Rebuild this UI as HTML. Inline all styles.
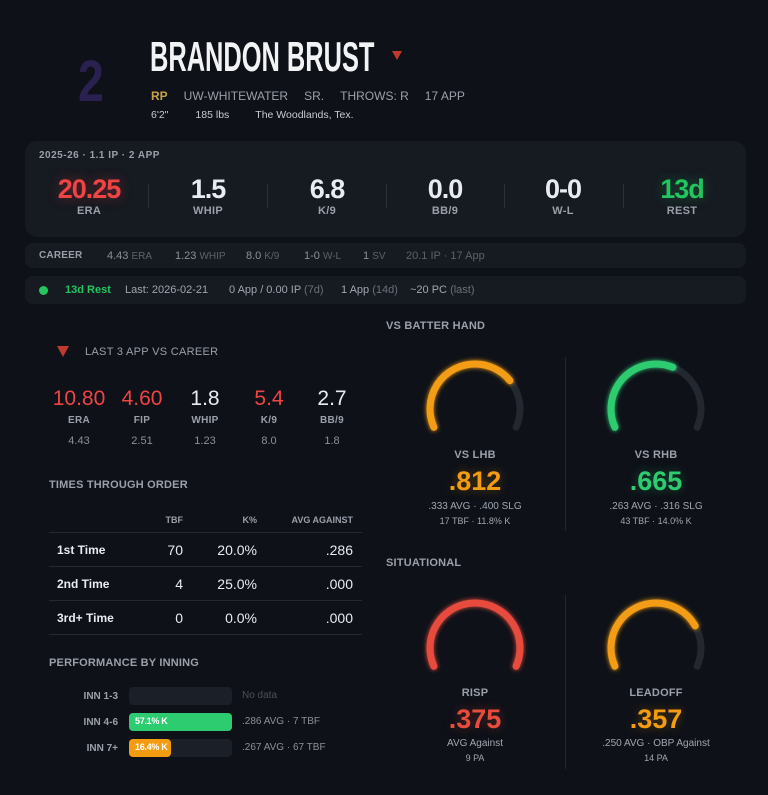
<!DOCTYPE html>
<html><head><meta charset="utf-8"><style>
*{margin:0;padding:0;box-sizing:border-box}
body{width:768px;height:795px;background:#0e1118;font-family:"Liberation Sans",sans-serif;color:#e8ebf0;position:relative;overflow:hidden}
.a{position:absolute;white-space:nowrap}
.c{transform:translateX(-50%);text-align:center}
.lab{font-weight:bold;color:#9aa0aa;letter-spacing:0.2px;font-size:11px}
.card{position:absolute;background:#161a21;border-radius:8px}
.sv{font-size:27px;letter-spacing:-1px;font-weight:bold}
.sl{font-size:11px;color:#9aa0aa;letter-spacing:0.3px;font-weight:bold}
.div{position:absolute;width:1px;background:#2a2f38}
.g{color:#8a909a;font-size:11px}
.d{color:#5c626c;font-size:10px}
.row{position:absolute;left:49px;width:313px;height:1px;background:#232832}
.t{font-size:14px;color:#e8ebf0}
.bar{position:absolute;left:129px;width:103px;height:18px;background:#1b1f27;border-radius:4px}
</style></head><body>
<div class="a" style="left:78px;top:48px;font-size:58px;font-weight:bold;color:#2b2150;transform:scaleX(0.8);transform-origin:left">2</div>
<div class="a" style="left:150px;top:33px;font-size:42px;font-weight:bold;color:#f2f3f5;transform:scaleX(0.605);transform-origin:left">BRANDON BRUST</div>
<div class="a" style="left:392px;top:51px;width:0;height:0;border-left:5px solid transparent;border-right:5px solid transparent;border-top:9px solid #c0392b"></div>
<div class="a" style="left:151px;top:89px;font-size:12px;color:#9aa0aa"><b style="color:#c9a14a">RP</b><span style="margin-left:16px">UW-WHITEWATER</span><span style="margin-left:16px">SR.</span><span style="margin-left:16px">THROWS: R</span><span style="margin-left:16px">17 APP</span></div>
<div class="a" style="left:151px;top:109px;font-size:10.5px;color:#c8ccd2">6'2"<span style="margin-left:27px">185 lbs</span><span style="margin-left:26px">The Woodlands, Tex.</span></div>

<div class="card" style="left:25px;top:141px;width:721px;height:96px;border-radius:12px"></div>
<div class="a lab" style="left:39px;top:150px;font-size:10px;letter-spacing:0.5px">2025-26 · 1.1 IP · 2 APP</div>
<div class="a c sv" style="left:89px;top:174px;color:#ef4444;text-shadow:0 0 12px rgba(239,68,68,.4)">20.25</div>
<div class="a c sv" style="left:208px;top:174px">1.5</div>
<div class="a c sv" style="left:327px;top:174px">6.8</div>
<div class="a c sv" style="left:445px;top:174px">0.0</div>
<div class="a c sv" style="left:563px;top:174px">0-0</div>
<div class="a c sv" style="left:682px;top:174px;color:#22c55e;text-shadow:0 0 12px rgba(34,197,94,.4)">13d</div>
<div class="a c sl" style="left:89px;top:205px">ERA</div>
<div class="a c sl" style="left:208px;top:205px">WHIP</div>
<div class="a c sl" style="left:327px;top:205px">K/9</div>
<div class="a c sl" style="left:445px;top:205px">BB/9</div>
<div class="a c sl" style="left:563px;top:205px">W-L</div>
<div class="a c sl" style="left:682px;top:205px">REST</div>
<div class="div" style="left:148px;top:184px;height:24px"></div>
<div class="div" style="left:267px;top:184px;height:24px"></div>
<div class="div" style="left:386px;top:184px;height:24px"></div>
<div class="div" style="left:504px;top:184px;height:24px"></div>
<div class="div" style="left:623px;top:184px;height:24px"></div>

<div class="card" style="left:25px;top:243px;width:721px;height:25px"></div>
<div class="a lab" style="left:39px;top:250px;font-size:10px">CAREER</div>
<div class="a g" style="left:107px;top:250px">4.43 <span class="d">ERA</span></div>
<div class="a g" style="left:175px;top:250px">1.23 <span class="d">WHIP</span></div>
<div class="a g" style="left:246px;top:250px">8.0 <span class="d">K/9</span></div>
<div class="a g" style="left:304px;top:250px">1-0 <span class="d">W-L</span></div>
<div class="a g" style="left:363px;top:250px">1 <span class="d">SV</span></div>
<div class="a" style="left:406px;top:250px;font-size:11px;color:#5c626c">20.1 IP · 17 App</div>

<div class="card" style="left:25px;top:276px;width:721px;height:28px"></div>
<div class="a" style="left:39px;top:286px;width:9px;height:9px;border-radius:50%;background:#22c55e"></div>
<div class="a" style="left:65px;top:284px;font-size:11px;font-weight:bold;color:#22c55e">13d Rest</div>
<div class="a g" style="left:125px;top:284px;color:#a0a6b0">Last: 2026-02-21</div>
<div class="a g" style="left:229px;top:284px;color:#a0a6b0">0 App / 0.00 IP <span style="color:#6a707a">(7d)</span></div>
<div class="a g" style="left:341px;top:284px;color:#a0a6b0">1 App <span style="color:#6a707a">(14d)</span></div>
<div class="a g" style="left:410px;top:284px;color:#a0a6b0">~20 PC <span style="color:#6a707a">(last)</span></div>

<div class="a" style="left:57px;top:346px;width:0;height:0;border-left:6px solid transparent;border-right:6px solid transparent;border-top:11px solid #c0392b"></div>
<div class="a" style="left:85px;top:346px;font-size:11px;color:#9aa0aa;letter-spacing:0.3px">LAST 3 APP VS CAREER</div>
<div class="a c" style="left:79px;top:387px;font-size:21px;color:#ef4444">10.80</div>
<div class="a c" style="left:142px;top:387px;font-size:21px;color:#ef4444">4.60</div>
<div class="a c" style="left:205px;top:387px;font-size:21px">1.8</div>
<div class="a c" style="left:269px;top:387px;font-size:21px;color:#ef4444">5.4</div>
<div class="a c" style="left:332px;top:387px;font-size:21px">2.7</div>
<div class="a c sl" style="left:79px;top:415px;font-size:10px">ERA</div>
<div class="a c sl" style="left:142px;top:415px;font-size:10px">FIP</div>
<div class="a c sl" style="left:205px;top:415px;font-size:10px">WHIP</div>
<div class="a c sl" style="left:269px;top:415px;font-size:10px">K/9</div>
<div class="a c sl" style="left:332px;top:415px;font-size:10px">BB/9</div>
<div class="a c g" style="left:79px;top:435px">4.43</div>
<div class="a c g" style="left:142px;top:435px">2.51</div>
<div class="a c g" style="left:205px;top:435px">1.23</div>
<div class="a c g" style="left:269px;top:435px">8.0</div>
<div class="a c g" style="left:332px;top:435px">1.8</div>

<div class="a lab" style="left:49px;top:479px">TIMES THROUGH ORDER</div>
<div class="a lab" style="left:150px;top:515px;width:33px;text-align:right;font-size:9px;letter-spacing:0">TBF</div>
<div class="a lab" style="left:210px;top:515px;width:47px;text-align:right;font-size:9px;letter-spacing:0">K%</div>
<div class="a lab" style="left:273px;top:515px;width:80px;text-align:right;font-size:9px;letter-spacing:0">AVG AGAINST</div>
<div class="row" style="top:532px"></div><div class="row" style="top:566px"></div><div class="row" style="top:600px"></div><div class="row" style="top:634px"></div>
<div class="a" style="left:57px;top:543px;font-size:12px;font-weight:bold">1st Time</div>
<div class="a" style="left:57px;top:577px;font-size:12px;font-weight:bold">2nd Time</div>
<div class="a" style="left:57px;top:611px;font-size:12px;font-weight:bold">3rd+ Time</div>
<div class="a t" style="left:133px;top:542px;width:50px;text-align:right">70</div>
<div class="a t" style="left:133px;top:576px;width:50px;text-align:right">4</div>
<div class="a t" style="left:133px;top:610px;width:50px;text-align:right">0</div>
<div class="a t" style="left:187px;top:542px;width:70px;text-align:right">20.0%</div>
<div class="a t" style="left:187px;top:576px;width:70px;text-align:right">25.0%</div>
<div class="a t" style="left:187px;top:610px;width:70px;text-align:right">0.0%</div>
<div class="a t" style="left:283px;top:542px;width:70px;text-align:right">.286</div>
<div class="a t" style="left:283px;top:576px;width:70px;text-align:right">.000</div>
<div class="a t" style="left:283px;top:610px;width:70px;text-align:right">.000</div>

<div class="a lab" style="left:49px;top:657px">PERFORMANCE BY INNING</div>
<div class="a lab" style="left:60px;top:691px;width:58px;text-align:right;letter-spacing:0;font-size:10px">INN 1-3</div>
<div class="a lab" style="left:60px;top:717px;width:58px;text-align:right;letter-spacing:0;font-size:10px">INN 4-6</div>
<div class="a lab" style="left:60px;top:743px;width:58px;text-align:right;letter-spacing:0;font-size:10px">INN 7+</div>
<div class="bar" style="top:687px"></div>
<div class="bar" style="top:713px;background:#2ecc71"></div>
<div class="bar" style="top:739px"></div>
<div class="a" style="left:129px;top:739px;width:42px;height:18px;background:#f39c12;border-radius:4px"></div>
<div class="a" style="left:135px;top:716px;font-size:9px;font-weight:bold;color:#fff;letter-spacing:-0.3px">57.1% K</div>
<div class="a" style="left:135px;top:742px;font-size:9px;font-weight:bold;color:#fff;letter-spacing:-0.3px">16.4% K</div>
<div class="a" style="left:242px;top:690px;font-size:10px;color:#4a505a">No data</div>
<div class="a" style="left:242px;top:716px;font-size:10px;color:#8a909a">.286 AVG · 7 TBF</div>
<div class="a" style="left:242px;top:742px;font-size:10px;color:#8a909a">.267 AVG · 67 TBF</div>

<div class="a lab" style="left:386px;top:320px">VS BATTER HAND</div>
<div class="a lab" style="left:386px;top:557px">SITUATIONAL</div>
<div class="div" style="left:565px;top:357px;height:174px;background:#222730"></div>
<div class="div" style="left:565px;top:595px;height:174px;background:#222730"></div>

<svg class="a" style="left:0;top:0" width="768" height="795">
<defs><filter id="gl" x="-30%" y="-30%" width="160%" height="160%"><feGaussianBlur stdDeviation="2.5" result="b"/><feMerge><feMergeNode in="b"/><feMergeNode in="SourceGraphic"/></feMerge></filter></defs>
<g fill="none" stroke-width="7" stroke-linecap="round">
<path d="M433.9 427.3 A45 45 0 1 1 516.1 427.3" stroke="#23272f"/>
<path d="M433.9 427.3 A45 45 0 1 1 516.1 427.3" stroke="#f39c12" stroke-dasharray="129.5 400" filter="url(#gl)"/>
<path d="M614.9 427.3 A45 45 0 1 1 697.1 427.3" stroke="#23272f"/>
<path d="M614.9 427.3 A45 45 0 1 1 697.1 427.3" stroke="#2ecc71" stroke-dasharray="106.8 400" filter="url(#gl)"/>
<path d="M433.9 666.3 A45 45 0 1 1 516.1 666.3" stroke="#e74c3c" filter="url(#gl)"/>
<path d="M614.9 666.3 A45 45 0 1 1 697.1 666.3" stroke="#23272f"/>
<path d="M614.9 666.3 A45 45 0 1 1 697.1 666.3" stroke="#f39c12" stroke-dasharray="137 400" filter="url(#gl)"/>
</g></svg>

<div class="a c lab" style="left:475px;top:449px">VS LHB</div>
<div class="a c" style="left:475px;top:466px;font-size:27px;font-weight:bold;color:#f39c12;text-shadow:0 0 10px rgba(243,156,18,.35)">.812</div>
<div class="a c" style="left:475px;top:501px;font-size:10px;color:#a0a6b0">.333 AVG · .400 SLG</div>
<div class="a c" style="left:475px;top:516px;font-size:9px;color:#a0a6b0">17 TBF · 11.8% K</div>
<div class="a c lab" style="left:656px;top:449px">VS RHB</div>
<div class="a c" style="left:656px;top:466px;font-size:27px;font-weight:bold;color:#2ecc71;text-shadow:0 0 10px rgba(46,204,113,.35)">.665</div>
<div class="a c" style="left:656px;top:501px;font-size:10px;color:#a0a6b0">.263 AVG · .316 SLG</div>
<div class="a c" style="left:656px;top:516px;font-size:9px;color:#a0a6b0">43 TBF · 14.0% K</div>
<div class="a c lab" style="left:475px;top:687px">RISP</div>
<div class="a c" style="left:475px;top:704px;font-size:27px;font-weight:bold;color:#e74c3c;text-shadow:0 0 10px rgba(231,76,60,.35)">.375</div>
<div class="a c" style="left:475px;top:738px;font-size:10px;color:#a0a6b0">AVG Against</div>
<div class="a c" style="left:475px;top:753px;font-size:9px;color:#a0a6b0">9 PA</div>
<div class="a c lab" style="left:656px;top:687px">LEADOFF</div>
<div class="a c" style="left:656px;top:704px;font-size:27px;font-weight:bold;color:#f39c12;text-shadow:0 0 10px rgba(243,156,18,.35)">.357</div>
<div class="a c" style="left:656px;top:738px;font-size:10px;color:#a0a6b0">.250 AVG · OBP Against</div>
<div class="a c" style="left:656px;top:753px;font-size:9px;color:#a0a6b0">14 PA</div>
</body></html>
